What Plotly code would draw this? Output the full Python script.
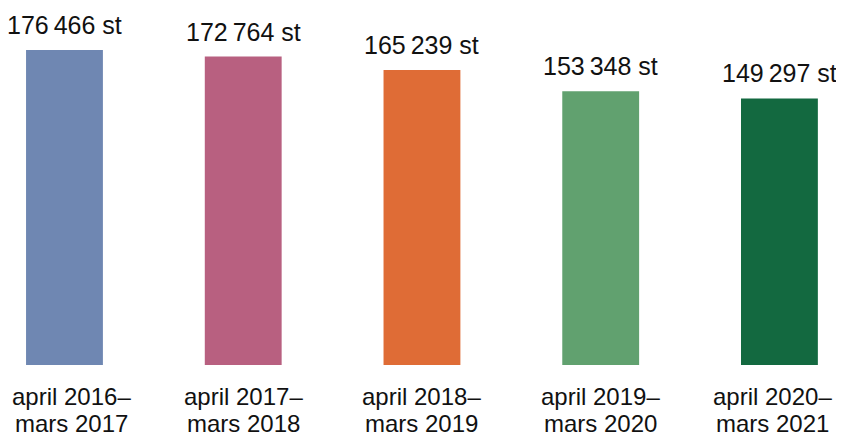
import plotly.graph_objects as go

categories = ["april 2016–<br>mars 2017", "april 2017–<br>mars 2018", "april 2018–<br>mars 2019",
              "april 2019–<br>mars 2020", "april 2020–<br>mars 2021"]
values = [176466, 172764, 165239, 153348, 149297]
colors = ["#6F87B2", "#B86080", "#DF6C36", "#61A16F", "#136940"]

FONT = "Liberation Sans"
x = list(range(len(categories)))
label_shift = [7, 0, 0, 0, -7]

def fmt(v):
    return f"{v:,}".replace(",", "\u2009") + " st"

fig = go.Figure(go.Bar(x=x, y=values, marker=dict(color=colors, line=dict(width=0)),
                       width=0.43, hoverinfo="skip"))

ann = []
for xi, v in zip(x, values):
    ann.append(dict(x=xi, y=v, xref="x", yref="y", text=fmt(v), showarrow=False,
                    yanchor="bottom", yshift=9, font=dict(family=FONT, size=25, color="#111")))
for xi, c, sh in zip(x, categories, label_shift):
    l1, l2 = c.split("<br>")
    ann.append(dict(x=xi, y=0, xref="x", yref="paper", text=l1, showarrow=False, xshift=sh,
                    yanchor="top", yshift=-16, font=dict(family=FONT, size=24, color="#111")))
    ann.append(dict(x=xi, y=0, xref="x", yref="paper", text=l2, showarrow=False, xshift=sh,
                    yanchor="top", yshift=-43, font=dict(family=FONT, size=24, color="#111")))

fig.update_layout(
    width=844, height=432, margin=dict(l=0, r=0, t=0, b=75),
    paper_bgcolor="white", plot_bgcolor="white", showlegend=False,
    xaxis=dict(range=[-0.316, 4.406], visible=False),
    yaxis=dict(range=[0, 199990], visible=False),
    annotations=ann,
)
fig.write_html("out.html")
